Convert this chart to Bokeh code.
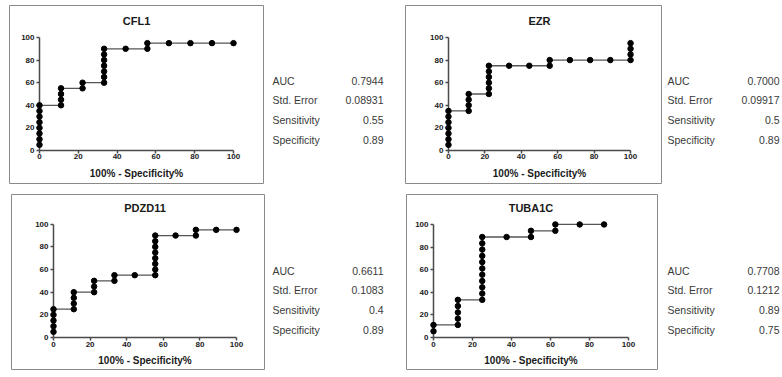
from bokeh.plotting import figure
from bokeh.models import LinearAxis, Range1d, Label, FixedTicker, Spacer, ColumnDataSource
from bokeh.layouts import row, column
from bokeh.embed import file_html
from bokeh.resources import INLINE
from bokeh.core.properties import value

# ---------------- data ----------------
genes = ["CFL1", "EZR", "PDZD11", "TUBA1C"]
ticks = [0, 20, 40, 60, 80, 100]

cfl1_x = [0, 0, 0, 0, 0, 0, 0, 0, 11.1, 11.1, 11.1, 11.1, 22.2, 22.2,
          33.3, 33.3, 33.3, 33.3, 33.3, 33.3, 33.3, 44.4, 55.6, 55.6, 66.7, 77.8, 88.9, 100]
cfl1_y = [5, 10, 15, 20, 25, 30, 35, 40, 40, 45, 50, 55, 55, 60,
          60, 65, 70, 75, 80, 85, 90, 90, 90, 95, 95, 95, 95, 95]

ezr_x = [0, 0, 0, 0, 0, 0, 0, 11.1, 11.1, 11.1, 11.1, 22.2, 22.2, 22.2, 22.2, 22.2, 22.2,
         33.3, 44.4, 55.6, 55.6, 66.7, 77.8, 88.9, 100, 100, 100, 100]
ezr_y = [5, 10, 15, 20, 25, 30, 35, 35, 40, 45, 50, 50, 55, 60, 65, 70, 75,
         75, 75, 75, 80, 80, 80, 80, 80, 85, 90, 95]

pdzd11_x = [0, 0, 0, 0, 0, 11.1, 11.1, 11.1, 11.1, 22.2, 22.2, 22.2, 33.3, 33.3, 44.4,
            55.6, 55.6, 55.6, 55.6, 55.6, 55.6, 55.6, 55.6, 66.7, 77.8, 77.8, 88.9, 100]
pdzd11_y = [5, 10, 15, 20, 25, 25, 30, 35, 40, 40, 45, 50, 50, 55, 55,
            55, 60, 65, 70, 75, 80, 85, 90, 90, 90, 95, 95, 95]

tuba1c_x = [0, 0, 12.5, 12.5, 12.5, 12.5, 12.5,
            25, 25, 25, 25, 25, 25, 25, 25, 25, 25, 25,
            37.5, 50, 50, 62.5, 62.5, 75, 87.5]
tuba1c_y = [5.56, 11.1, 11.1, 16.7, 22.2, 27.8, 33.3,
            33.3, 38.9, 44.4, 50.0, 55.6, 61.1, 66.7, 72.2, 77.8, 83.3, 88.9,
            88.9, 88.9, 94.4, 94.4, 100, 100, 100]

stat_labels = ["AUC", "Std. Error", "Sensitivity", "Specificity"]
cfl1_stats = ["0.7944", "0.08931", "0.55", "0.89"]
ezr_stats = ["0.7000", "0.09917", "0.5", "0.89"]
pdzd11_stats = ["0.6611", "0.1083", "0.4", "0.89"]
tuba1c_stats = ["0.7708", "0.1212", "0.89", "0.75"]

FONT = "Liberation Sans"
AX = "#4a4a4a"


def make_panel(title, xs, ys, w, h, xr, yr, title_y):
    p = figure(width=w, height=h, x_range=Range1d(*xr), y_range=Range1d(*yr),
               x_axis_type=None, y_axis_type=None, output_backend="svg",
               toolbar_location=None, min_border_left=1, min_border_right=1,
               min_border_top=1, min_border_bottom=1)
    p.outline_line_color = "#8a8a8a"
    p.outline_line_width = 1
    p.background_fill_color = "white"
    p.border_fill_color = "white"

    common = dict(fixed_location=0, bounds=(0, 100), ticker=FixedTicker(ticks=ticks),
                  axis_line_color=AX, axis_line_width=1.5,
                  major_tick_line_color=AX, major_tick_line_width=1.5,
                  major_tick_out=3, major_tick_in=0, minor_tick_line_color=None,
                  major_label_text_font=FONT, major_label_text_font_size="8px",
                  major_label_text_font_style="bold", major_label_text_color="#1a1a1a")
    xa = LinearAxis(major_label_standoff=1, axis_label="100% - Specificity%",
                    axis_label_text_font=FONT, axis_label_text_font_size="10px",
                    axis_label_text_font_style="bold", axis_label_text_color="#1a1a1a",
                    axis_label_standoff=5, **common)
    ya = LinearAxis(major_label_standoff=2, **common)
    xa.level = "underlay"
    ya.level = "underlay"
    p.add_layout(xa, "below")
    p.add_layout(ya, "left")

    p.line(xs, ys, line_color="#555555", line_width=1.3)
    p.scatter(xs, ys, size=5.5, fill_color="black", line_color="black")
    p.add_layout(Label(x=50, y=title_y, text=title, text_align="center",
                       text_baseline="middle", text_font=FONT, text_font_size="11px",
                       text_font_style="bold", text_color="#1a1a1a"))
    return p


def make_table(stats, w, h, top_val, lx, rx):
    yr = Range1d(start=top_val + h / 20.0, end=top_val)
    p = figure(width=w, height=h, x_range=Range1d(0, w), y_range=yr,
               x_axis_type=None, y_axis_type=None, output_backend="svg",
               toolbar_location=None, min_border=0)
    p.outline_line_color = None
    p.background_fill_color = "white"
    p.border_fill_color = "white"
    src = ColumnDataSource(dict(r=list(range(len(stat_labels))), lab=stat_labels, val=stats))
    p.text(x=lx, y="r", text="lab", source=src, text_align="left", text_baseline="middle",
           text_font=value(FONT), text_font_size="10.5px", text_color="#3a3a3a")
    p.text(x=rx, y="r", text="val", source=src, text_align="right", text_baseline="middle",
           text_font=value(FONT), text_font_size="10.5px", text_color="#3a3a3a")
    return p


H1 = 180
H2 = 177
p1 = make_panel(genes[0], cfl1_x, cfl1_y, 256, H1, (-15.46, 115.46), (-29.2, 128.3), 115)
t1 = make_table(cfl1_stats, 140, H1, -3.8, 8, 119)
p2 = make_panel(genes[1], ezr_x, ezr_y, 258, H1, (-23.6, 117.0), (-29.2, 128.3), 115)
t2 = make_table(ezr_stats, 118, H1, -3.8, 5, 117)

p3 = make_panel(genes[2], pdzd11_x, pdzd11_y, 255, H2, (-22.95, 115.3), (-28.2, 126.2), 114)
t3 = make_table(pdzd11_stats, 140, H2, -3.85, 7, 118)
p4 = make_panel(genes[3], tuba1c_x, tuba1c_y, 253, H2, (-13.85, 114.9), (-28.3, 126.5), 115)
t4 = make_table(tuba1c_stats, 122, H2, -3.85, 9, 121)

layout = column(
    Spacer(height=4),
    row(Spacer(width=8), p1, t1, p2, t2),
    Spacer(height=9),
    row(Spacer(width=10), p3, t3, p4, t4),
)

open("out.html", "w").write(file_html(layout, INLINE))
